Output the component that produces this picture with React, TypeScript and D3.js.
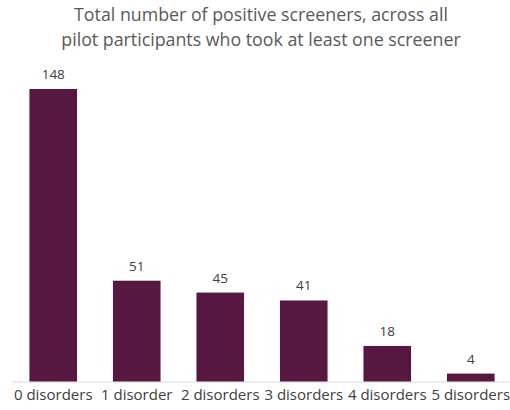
import React from "react";
import * as d3 from "d3";

const categories = ["0 disorders", "1 disorder", "2 disorders", "3 disorders", "4 disorders", "5 disorders"];
const values = [148, 51, 45, 41, 18, 4];
const titleLines = [
  "Total number of positive screeners, across all",
  "pilot participants who took at least one screener",
];

export default function App() {
  const W = 510, H = 410;
  const x0 = 11.5, x1 = 512.5;
  const baseY = 381.5;
  const x = d3.scaleBand<string>().domain(categories).range([x0, x1]).paddingInner(0.43).paddingOuter(0.215);
  const y = d3.scaleLinear().domain([0, 148]).range([baseY, 89]);
  const font = "'Open Sans', 'DejaVu Sans', sans-serif";
  return (
    <svg width={W} height={H} style={{ position: "absolute", left: 0, top: 0, background: "#fff" }}>
      {titleLines.map((t, i) => (
        <text key={i} x={261} y={21 + i * 25} textAnchor="middle" fontFamily={font} fontSize={17.8} fill="#595959">
          {t}
        </text>
      ))}
      <line x1={12} x2={510} y1={baseY + 0.5} y2={baseY + 0.5} stroke="#d9d9d9" strokeWidth={1} />
      {categories.map((c, i) => (
        <g key={c}>
          <rect x={x(c)} y={y(values[i])} width={x.bandwidth()} height={baseY - y(values[i])} fill="#561741" />
          <text x={x(c)! + x.bandwidth() / 2} y={y(values[i]) - 10} textAnchor="middle" fontFamily={font} fontSize={13.5} fill="#404040">
            {values[i]}
          </text>
          <text x={x(c)! + x.bandwidth() / 2} y={400} textAnchor="middle" fontFamily={font} fontSize={15} fill="#404040">
            {c}
          </text>
        </g>
      ))}
    </svg>
  );
}
